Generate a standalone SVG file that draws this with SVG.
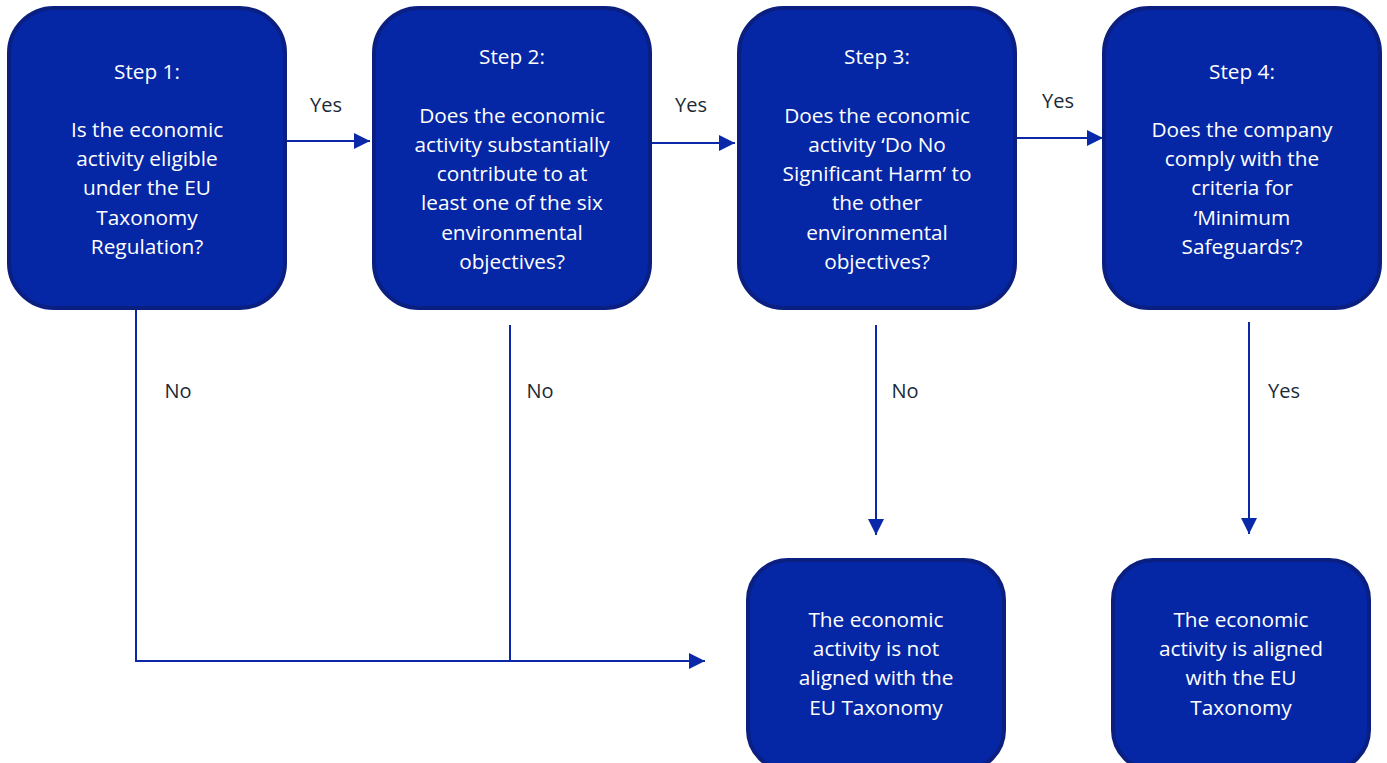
<svg xmlns="http://www.w3.org/2000/svg" width="1387" height="763" viewBox="0 0 1387 763">
<defs>
<style>
.box{fill:#0527a6;stroke:#0a1f80;stroke-width:4}
.bt{font-family:"Open Sans",Lato,"Liberation Sans",sans-serif;font-size:20.8px;fill:#ffffff;text-anchor:middle}
.lbl{font-family:"Open Sans",Lato,"Liberation Sans",sans-serif;font-size:20px;fill:#1a2a36;text-anchor:middle}
.con{stroke:#0b28a8;stroke-width:2;fill:none}
</style>
<marker id="ah" viewBox="0 0 10 10" refX="10" refY="5" markerWidth="16" markerHeight="16" markerUnits="userSpaceOnUse" orient="auto">
<path d="M0,0 L10,5 L0,10 Z" fill="#0b28a8"/>
</marker>
</defs>
<rect width="1387" height="763" fill="#ffffff"/>
<g id="connectors">
<line class="con" x1="286" y1="141" x2="370" y2="141" marker-end="url(#ah)"/>
<line class="con" x1="651" y1="143" x2="735" y2="143" marker-end="url(#ah)"/>
<line class="con" x1="1017" y1="138" x2="1103" y2="138" marker-end="url(#ah)"/>
<polyline class="con" points="136,308 136,661 705,661" marker-end="url(#ah)"/>
<line class="con" x1="510" y1="325" x2="510" y2="661"/>
<line class="con" x1="876" y1="325" x2="876" y2="535" marker-end="url(#ah)"/>
<line class="con" x1="1249" y1="322" x2="1249" y2="534" marker-end="url(#ah)"/>
<text class="lbl" x="326" y="112">Yes</text>
<text class="lbl" x="691" y="112">Yes</text>
<text class="lbl" x="1058" y="108">Yes</text>
<text class="lbl" x="178" y="398">No</text>
<text class="lbl" x="540" y="398">No</text>
<text class="lbl" x="905" y="398">No</text>
<text class="lbl" x="1284" y="398">Yes</text>
</g>
<g id="step1">
<rect class="box" x="9" y="8" width="276" height="300" rx="45"/>
<text class="bt" x="147" y="79">Step 1:</text>
<text class="bt" x="147" y="137">Is the economic</text>
<text class="bt" x="147" y="166">activity eligible</text>
<text class="bt" x="147" y="195">under the EU</text>
<text class="bt" x="147" y="225">Taxonomy</text>
<text class="bt" x="147" y="254">Regulation?</text>
</g>
<g id="step2">
<rect class="box" x="374" y="8" width="276" height="300" rx="45"/>
<text class="bt" x="512" y="64">Step 2:</text>
<text class="bt" x="512" y="123">Does the economic</text>
<text class="bt" x="512" y="152">activity substantially</text>
<text class="bt" x="512" y="181">contribute to at</text>
<text class="bt" x="512" y="210">least one of the six</text>
<text class="bt" x="512" y="240">environmental</text>
<text class="bt" x="512" y="269">objectives?</text>
</g>
<g id="step3">
<rect class="box" x="739" y="8" width="276" height="300" rx="45"/>
<text class="bt" x="877" y="64">Step 3:</text>
<text class="bt" x="877" y="123">Does the economic</text>
<text class="bt" x="877" y="152">activity ‘Do No</text>
<text class="bt" x="877" y="181">Significant Harm’ to</text>
<text class="bt" x="877" y="210">the other</text>
<text class="bt" x="877" y="240">environmental</text>
<text class="bt" x="877" y="269">objectives?</text>
</g>
<g id="step4">
<rect class="box" x="1104" y="8" width="276" height="300" rx="45"/>
<text class="bt" x="1242" y="79">Step 4:</text>
<text class="bt" x="1242" y="137">Does the company</text>
<text class="bt" x="1242" y="166">comply with the</text>
<text class="bt" x="1242" y="195">criteria for</text>
<text class="bt" x="1242" y="225">‘Minimum</text>
<text class="bt" x="1242" y="254">Safeguards’?</text>
</g>
<g id="not-aligned">
<rect class="box" x="748" y="560" width="256" height="210" rx="40"/>
<text class="bt" x="876" y="627">The economic</text>
<text class="bt" x="876" y="656">activity is not</text>
<text class="bt" x="876" y="685">aligned with the</text>
<text class="bt" x="876" y="715">EU Taxonomy</text>
</g>
<g id="aligned">
<rect class="box" x="1113" y="560" width="256" height="210" rx="40"/>
<text class="bt" x="1241" y="627">The economic</text>
<text class="bt" x="1241" y="656">activity is aligned</text>
<text class="bt" x="1241" y="685">with the EU</text>
<text class="bt" x="1241" y="715">Taxonomy</text>
</g>
</svg>
